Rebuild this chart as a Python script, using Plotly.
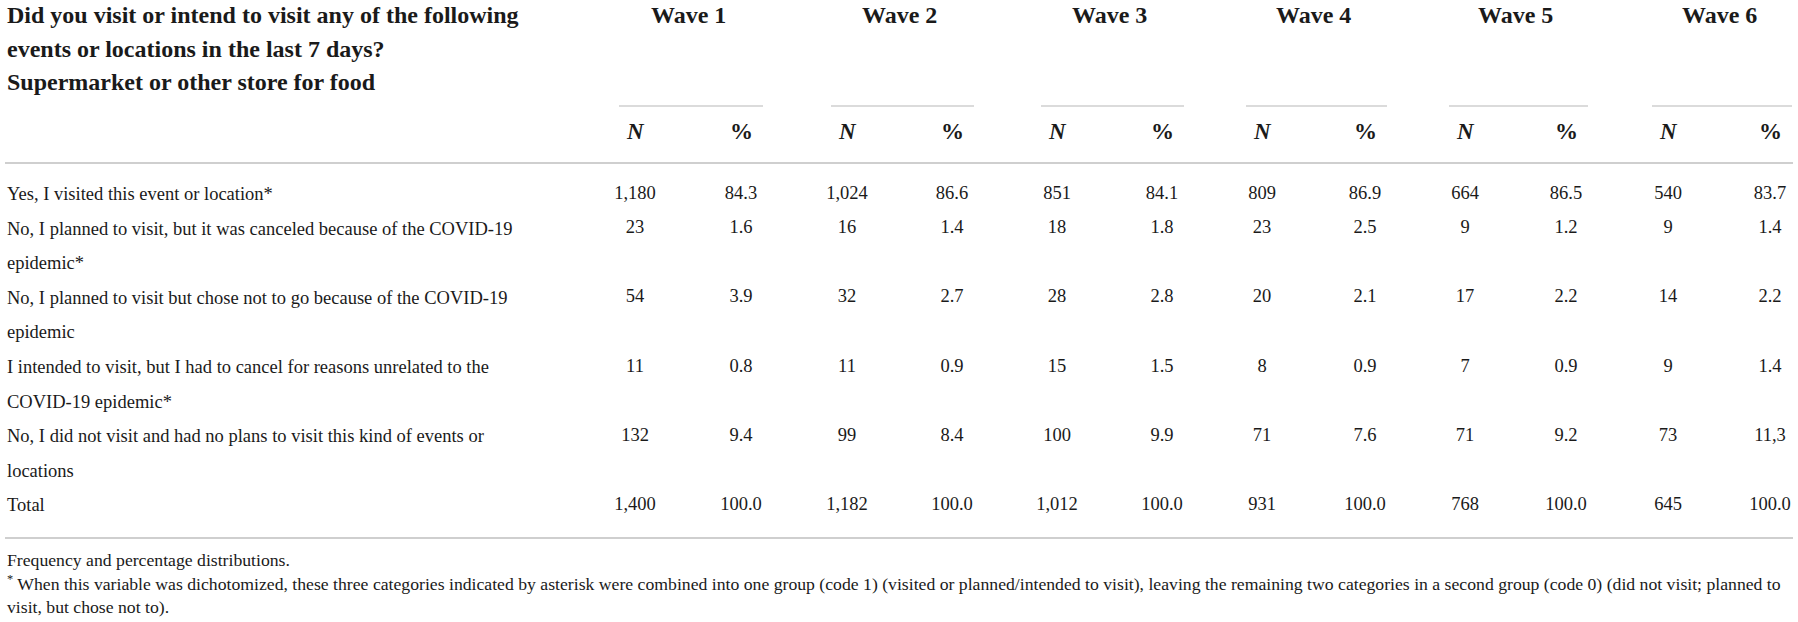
import plotly.graph_objects as go

# ---------------- data ----------------
waves = ["Wave 1", "Wave 2", "Wave 3", "Wave 4", "Wave 5", "Wave 6"]

question_lines = [
    "Did you visit or intend to visit any of the following",
    "events or locations in the last 7 days?",
    "Supermarket or other store for food",
]

row_labels = [
    ["Yes, I visited this event or location*"],
    ["No, I planned to visit, but it was canceled because of the COVID-19", "epidemic*"],
    ["No, I planned to visit but chose not to go because of the COVID-19", "epidemic"],
    ["I intended to visit, but I had to cancel for reasons unrelated to the", "COVID-19 epidemic*"],
    ["No, I did not visit and had no plans to visit this kind of events or", "locations"],
    ["Total"],
]

visited_n = [1180, 1024, 851, 809, 664, 540]
visited_pct = [84.3, 86.6, 84.1, 86.9, 86.5, 83.7]
canceled_n = [23, 16, 18, 23, 9, 9]
canceled_pct = [1.6, 1.4, 1.8, 2.5, 1.2, 1.4]
chose_not_n = [54, 32, 28, 20, 17, 14]
chose_not_pct = [3.9, 2.7, 2.8, 2.1, 2.2, 2.2]
unrelated_n = [11, 11, 15, 8, 7, 9]
unrelated_pct = [0.8, 0.9, 1.5, 0.9, 0.9, 1.4]
no_plans_n = [132, 99, 100, 71, 71, 73]
no_plans_pct = [9.4, 8.4, 9.9, 7.6, 9.2, 11.3]
total_n = [1400, 1182, 1012, 931, 768, 645]
total_pct = [100.0, 100.0, 100.0, 100.0, 100.0, 100.0]

# the source prints this one cell with a decimal comma
pct_text_override = {(4, 5): "11,3"}

footnote_lines = [
    "Frequency and percentage distributions.",
    "<sup>*</sup> When this variable was dichotomized, these three categories indicated by asterisk were combined into one group (code 1) (visited or planned/intended to visit), leaving the remaining two categories in a second group (code 0) (did not visit; planned to",
    "visit, but chose not to).",
]

n_rows = [visited_n, canceled_n, chose_not_n, unrelated_n, no_plans_n, total_n]
pct_rows = [visited_pct, canceled_pct, chose_not_pct, unrelated_pct, no_plans_pct, total_pct]

# ---------------- layout constants ----------------
W, H = 1798, 622
FONT = "Liberation Serif"
TXT = "#1a1a1a"
RULE = "#cfcfcf"
left_x = 5
n_cols = [635, 847, 1057, 1262, 1465, 1668]
p_cols = [741, 952, 1162, 1365, 1566, 1770]
head_y0, head_pitch = 15, 33.5
underline_y = 106
subhead_y = 131
top_rule_y = 163
body_y0, body_pitch = 194, 34.6
bottom_rule_y = 538
foot_y = [560, 583, 607]

fig = go.Figure()
annotations = []
shapes = []

def ann(x, y, text, size, bold=False, italic=False, anchor="left"):
    t = text
    if italic:
        t = "<i>" + t + "</i>"
    if bold:
        t = "<b>" + t + "</b>"
    annotations.append(dict(x=x, y=y, xref="x", yref="y", text=t, showarrow=False,
                            xanchor=anchor, yanchor="middle",
                            font=dict(family=FONT, size=size, color=TXT)))

# header question
for i, line in enumerate(question_lines):
    ann(left_x, head_y0 + i * head_pitch, line, 24, bold=True)

# wave headers, underlines, N / %
for k, w in enumerate(waves):
    cx = (n_cols[k] + p_cols[k]) / 2
    ann(cx, head_y0, w, 24, bold=True, anchor="center")
    shapes.append(dict(type="line", xref="x", yref="y", x0=n_cols[k] - 16, x1=p_cols[k] + 22,
                       y0=underline_y, y1=underline_y, line=dict(color=RULE, width=1.5)))
    ann(n_cols[k], subhead_y, "N", 23, bold=True, italic=True, anchor="center")
    ann(p_cols[k], subhead_y, "%", 23, bold=True, anchor="center")

# rules
for yy in (top_rule_y, bottom_rule_y):
    shapes.append(dict(type="line", xref="x", yref="y", x0=5, x1=1793, y0=yy, y1=yy,
                       line=dict(color=RULE, width=2)))

# body
line_idx = 0
row_y = []
for r, lines in enumerate(row_labels):
    row_y.append(body_y0 + line_idx * body_pitch)
    for j, line in enumerate(lines):
        ann(left_x, body_y0 + (line_idx + j) * body_pitch, line, 18.5)
    line_idx += len(lines)

for r in range(len(row_labels)):
    n_text = [f"{v:,}" for v in n_rows[r]]
    p_text = [pct_text_override.get((r, k), f"{v:.1f}") for k, v in enumerate(pct_rows[r])]
    fig.add_trace(go.Scatter(x=n_cols, y=[row_y[r]] * len(n_cols), mode="text", text=n_text,
                             textposition="middle center",
                             textfont=dict(family=FONT, size=18.5, color=TXT),
                             hoverinfo="skip", showlegend=False, cliponaxis=False))
    fig.add_trace(go.Scatter(x=p_cols, y=[row_y[r]] * len(p_cols), mode="text", text=p_text,
                             textposition="middle center",
                             textfont=dict(family=FONT, size=18.5, color=TXT),
                             hoverinfo="skip", showlegend=False, cliponaxis=False))

# footnotes
for i, line in enumerate(footnote_lines):
    ann(left_x, foot_y[i], line, 17.7)

fig.update_layout(
    width=W, height=H,
    margin=dict(l=0, r=0, t=0, b=0),
    paper_bgcolor="white", plot_bgcolor="white",
    # axis ranges chosen so that data units equal window pixels
    xaxis=dict(range=[0, W], visible=False, fixedrange=True),
    yaxis=dict(range=[H, 0], visible=False, fixedrange=True),
    annotations=annotations, shapes=shapes,
    hovermode=False,
)

# remove the default page margin so the figure fills the window exactly
fig.write_html("out.html",
               config={"displayModeBar": False, "staticPlot": True},
               post_script="document.body.style.margin='0';document.body.style.overflow='hidden';")
